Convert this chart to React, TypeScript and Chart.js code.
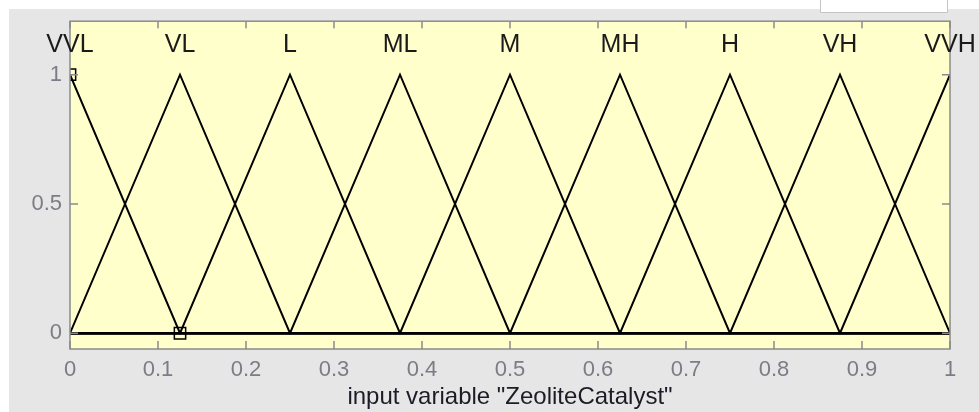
import React, { useEffect, useRef } from "react";
import { Chart, registerables } from "chart.js";

Chart.register(...registerables);

// ---- data ----
const mfNames = ["VVL", "VL", "L", "ML", "M", "MH", "H", "VH", "VVH"];
// triangular membership function parameters [a, b, c]
const mfParams = [
  [-0.125, 0, 0.125],
  [0, 0.125, 0.25],
  [0.125, 0.25, 0.375],
  [0.25, 0.375, 0.5],
  [0.375, 0.5, 0.625],
  [0.5, 0.625, 0.75],
  [0.625, 0.75, 0.875],
  [0.75, 0.875, 1],
  [0.875, 1, 1.125],
];
const xTickValues = [0, 0.1, 0.2, 0.3, 0.4, 0.5, 0.6, 0.7, 0.8, 0.9, 1];
const xTickLabels = ["0", "0.1", "0.2", "0.3", "0.4", "0.5", "0.6", "0.7", "0.8", "0.9", "1"];
const yTickValues = [0, 0.5, 1];
const yTickLabels = ["0", "0.5", "1"];
const markerPoints = [
  { x: 0, y: 1 },
  { x: 0.125, y: 0 },
];
const xRange = [0, 1];
const yRange = [-0.061, 1.207];
const labelY = 1.115;
const xTitle = 'input variable "ZeoliteCatalyst"';

const FONT = "Arial, 'Liberation Sans', Helvetica, sans-serif";
const TICK_COLOR = "#7c7c86";
const AXIS_COLOR = "#8a8a8a";

function trimf(x: number, p: number[]) {
  const [a, b, c] = p;
  if (x === b) return 1;
  if (x <= a || x >= c) return 0;
  if (x < b) return (x - a) / (b - a);
  return (c - x) / (c - b);
}

function mfPoints(p: number[]) {
  const xs = [xRange[0], ...p.filter((v) => v > xRange[0] && v < xRange[1]), xRange[1]];
  const uniq = Array.from(new Set(xs)).sort((a, b) => a - b);
  return uniq.map((x) => ({ x, y: trimf(x, p) }));
}

const framePlugin = {
  id: "frame",
  beforeDraw(chart: any) {
    const { ctx, chartArea, width, height } = chart;
    ctx.save();
    ctx.fillStyle = "#ffffff";
    ctx.fillRect(0, 0, width, height);
    ctx.fillStyle = "#e6e6e6";
    ctx.fillRect(9, 9, width - 9, height - 9);
    // partially visible box at top right
    ctx.fillStyle = "#ffffff";
    ctx.fillRect(820, 0, 128, 12);
    ctx.strokeStyle = "#c4c4c4";
    ctx.lineWidth = 1;
    ctx.beginPath();
    ctx.moveTo(820.5, 0);
    ctx.lineTo(820.5, 12.5);
    ctx.lineTo(947.5, 12.5);
    ctx.lineTo(947.5, 0);
    ctx.stroke();
    ctx.fillStyle = "#ffffcc";
    ctx.fillRect(chartArea.left, chartArea.top, chartArea.right - chartArea.left, chartArea.bottom - chartArea.top);
    ctx.restore();
  },
  afterDatasetsDraw(chart: any) {
    const { ctx, chartArea } = chart;
    const xs = chart.scales.x;
    const ys = chart.scales.y;
    ctx.save();
    ctx.strokeStyle = AXIS_COLOR;
    ctx.lineWidth = 1.5;
    ctx.strokeRect(chartArea.left, chartArea.top, chartArea.right - chartArea.left, chartArea.bottom - chartArea.top);
    ctx.beginPath();
    xTickValues.forEach((v) => {
      const px = xs.getPixelForValue(v);
      ctx.moveTo(px, chartArea.bottom);
      ctx.lineTo(px, chartArea.bottom - 8);
      ctx.moveTo(px, chartArea.top);
      ctx.lineTo(px, chartArea.top + 7);
    });
    yTickValues.forEach((v) => {
      const py = ys.getPixelForValue(v);
      ctx.moveTo(chartArea.left, py);
      ctx.lineTo(chartArea.left + 8, py);
      ctx.moveTo(chartArea.right, py);
      ctx.lineTo(chartArea.right - 8, py);
    });
    ctx.stroke();
    // membership function names
    ctx.fillStyle = "#1a1a1a";
    ctx.font = `25px ${FONT}`;
    ctx.textAlign = "center";
    ctx.textBaseline = "middle";
    mfNames.forEach((name, i) => {
      ctx.fillText(name, xs.getPixelForValue(mfParams[i][1]), ys.getPixelForValue(labelY));
    });
    ctx.restore();
  },
};

export default function App() {
  const ref = useRef<HTMLCanvasElement | null>(null);
  useEffect(() => {
    document.body.style.margin = "0";
    const datasets: any[] = mfParams.map((p, i) => ({
      label: mfNames[i],
      data: mfPoints(p),
      showLine: true,
      borderColor: "#000000",
      borderWidth: 2,
      pointRadius: 0,
      fill: false,
    }));
    datasets.push({
      label: "markers",
      data: markerPoints,
      showLine: false,
      pointStyle: "rect",
      pointRadius: 8,
      pointBorderColor: "#000000",
      pointBackgroundColor: "rgba(0,0,0,0)",
      pointBorderWidth: 1.5,
    });
    const chart = new Chart(ref.current as HTMLCanvasElement, {
      type: "scatter",
      data: { datasets },
      options: {
        animation: false,
        responsive: false,
        maintainAspectRatio: false,
        layout: { padding: { left: 0, top: 18, right: 29, bottom: 0 } },
        plugins: { legend: { display: false }, tooltip: { enabled: false }, title: { display: false } },
        scales: {
          x: {
            type: "linear",
            min: xRange[0],
            max: xRange[1],
            grid: { display: false, drawTicks: false },
            border: { display: false },
            afterBuildTicks: (s: any) => {
              s.ticks = xTickValues.map((v) => ({ value: v }));
            },
            afterFit: (s: any) => {
              s.height = 63;
            },
            ticks: {
              padding: 8,
              color: TICK_COLOR,
              font: { family: FONT, size: 22 },
              maxRotation: 0,
              autoSkip: false,
              callback: (_v: any, i: number) => xTickLabels[i],
            },
            title: {
              display: true,
              text: xTitle,
              color: "#1c1c28",
              font: { family: FONT, size: 24 },
              padding: { top: 0, bottom: 0 },
            },
          },
          y: {
            type: "linear",
            min: yRange[0],
            max: yRange[1],
            grid: { display: false, drawTicks: false },
            border: { display: false },
            afterBuildTicks: (s: any) => {
              s.ticks = yTickValues.map((v) => ({ value: v }));
            },
            afterFit: (s: any) => {
              s.width = 70;
            },
            ticks: {
              padding: 8,
              color: TICK_COLOR,
              font: { family: FONT, size: 22 },
              autoSkip: false,
              callback: (_v: any, i: number) => yTickLabels[i],
            },
          },
        },
      },
      plugins: [framePlugin],
    });
    return () => chart.destroy();
  }, []);
  return (
    <div style={{ position: "fixed", left: 0, top: 0, width: 979, height: 412 }}>
      <canvas ref={ref} width={979} height={412} style={{ width: 979, height: 412, display: "block" }} />
    </div>
  );
}
